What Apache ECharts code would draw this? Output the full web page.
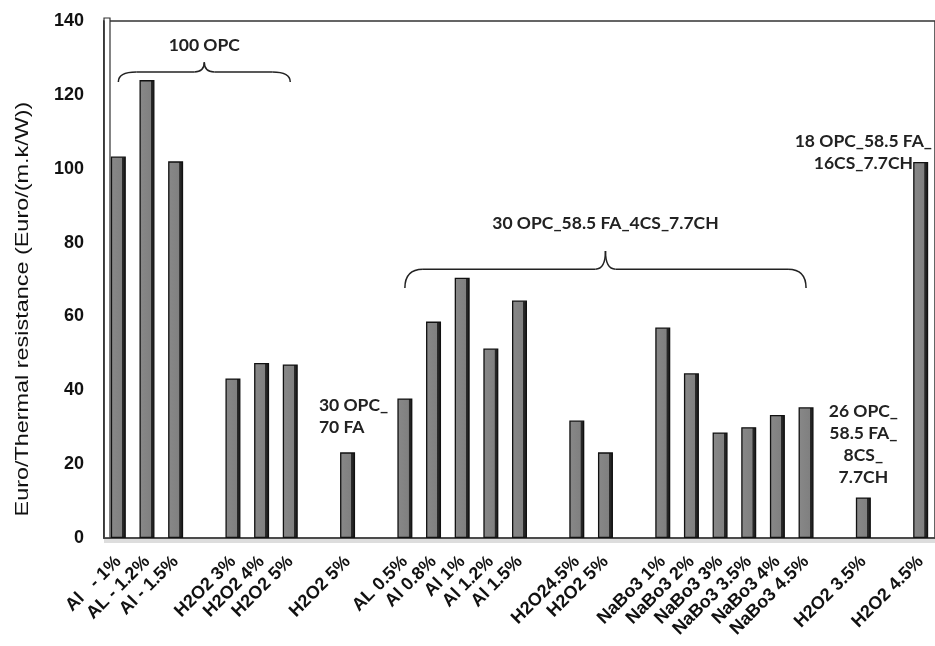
<!DOCTYPE html>
<html>
<head>
<meta charset="utf-8">
<script src="https://cdn.jsdelivr.net/npm/echarts@6/dist/echarts.min.js"></script>
<style>html,body{margin:0;padding:0;background:#fff;}#c{width:935px;height:646px;}</style>
</head>
<body>
<div id="c"></div>
<script>
var categories = ['Al   - 1%', 'AL - 1.2%', 'Al - 1.5%', '', 'H2O2 3%', 'H2O2 4%', 'H2O2 5%', ' ', 'H2O2 5%', '  ',
  'AL 0.5%', 'Al 0.8%', 'Al 1%', 'Al 1.2%', 'Al 1.5%', '   ', 'H2O24.5%', 'H2O2 5%', '    ',
  'NaBo3 1%', 'NaBo3 2%', 'NaBo3 3%', 'NaBo3 3.5%', 'NaBo3 4%', 'NaBo3 4.5%', '     ', 'H2O2 3.5%', '      ', 'H2O2 4.5%'];
var values = [103.3, 124, 102, null, 43.2, 47.4, 47, null, 23.2, null,
  37.8, 58.6, 70.5, 51.3, 64.3, null, 31.8, 23.2, null,
  57, 44.6, 28.6, 30, 33.3, 35.4, null, 11, null, 101.8];
var yTicks = [0, 20, 40, 60, 80, 100, 120, 140];
var yTitle = 'Euro/Thermal resistance (Euro/(m.k/W))';

var chart = echarts.init(document.getElementById('c'));
var barColor = new echarts.graphic.LinearGradient(0, 0, 1, 0, [
  {offset: 0, color: '#888'}, {offset: 0.74, color: '#808080'},
  {offset: 0.76, color: '#2a2a2a'}, {offset: 1, color: '#1a1a1a'}]);

chart.setOption({
  animation: false,
  grid: {left: 104, top: 21, width: 841, bottom: 108, show: true, borderColor: '#333', borderWidth: 1.5, backgroundColor: 'transparent'},
  xAxis: {
    type: 'category', data: categories,
    axisLine: {show: true, lineStyle: {color: '#444', width: 1.5}},
    axisTick: {show: false},
    axisLabel: {interval: 0, rotate: 45, margin: 21, fontFamily: 'Liberation Sans, Arial', fontWeight: 'bold', fontSize: 18, color: '#111'}
  },
  yAxis: {
    type: 'value', min: yTicks[0], max: yTicks[yTicks.length - 1], interval: 20,
    axisLine: {show: true, lineStyle: {color: '#333', width: 1.5}},
    axisTick: {show: false}, splitLine: {show: false},
    axisLabel: {margin: 20, fontFamily: 'Liberation Sans, Arial', fontWeight: 'bold', fontSize: 18, color: '#111'}
  },
  series: [{
    type: 'bar', data: values, barWidth: 15,
    itemStyle: {color: barColor, borderColor: '#111', borderWidth: 1.3}
  }]
});

function px(slot, val) { return chart.convertToPixel({xAxisIndex: 0, yAxisIndex: 0}, [slot, val]); }
var lineStyle = {fill: null, stroke: '#222', lineWidth: 1.5};
function brace(s1, s2, vEnd, vMid, vPeak) {
  var a = px(s1, vEnd), b = px(s2, vEnd), m = px((s1 + s2) / 2, vMid), p = px((s1 + s2) / 2, vPeak);
  var yM = m[1], r = 18, rc = 10, xm = m[0];
  return [
    {type: 'bezierCurve', shape: {x1: a[0], y1: a[1], cpx1: a[0], cpy1: yM, x2: a[0] + r, y2: yM}, style: lineStyle},
    {type: 'line', shape: {x1: a[0] + r, y1: yM, x2: xm - rc, y2: yM}, style: lineStyle},
    {type: 'bezierCurve', shape: {x1: xm - rc, y1: yM, cpx1: xm, cpy1: yM, x2: xm, y2: p[1]}, style: lineStyle},
    {type: 'bezierCurve', shape: {x1: xm, y1: p[1], cpx1: xm, cpy1: yM, x2: xm + rc, y2: yM}, style: lineStyle},
    {type: 'line', shape: {x1: xm + rc, y1: yM, x2: b[0] - r, y2: yM}, style: lineStyle},
    {type: 'bezierCurve', shape: {x1: b[0] - r, y1: yM, cpx1: b[0], cpy1: yM, x2: b[0], y2: b[1]}, style: lineStyle}
  ];
}
var annFont = 'bold 17.5px Lato, "Open Sans", sans-serif';
function txt(slot, val, s, align) {
  var p = px(slot, val);
  return {type: 'text', x: p[0], y: p[1], style: {text: s, font: annFont, fill: '#222', align: align || 'center', verticalAlign: 'middle', lineHeight: 22}};
}
var g0 = px(0, 0), gTop = px(0, 140), gMid = px(0, 62);
var left = 104;
var els = [
  {type: 'rect', shape: {x: left, y: gTop[1] - 3, width: 6, height: g0[1] - gTop[1] + 3}, style: {fill: '#fff', stroke: '#333', lineWidth: 1.2}},
  {type: 'rect', shape: {x: left, y: g0[1] + 1, width: 841, height: 4}, style: {fill: '#ddd', stroke: null}},
  {type: 'text', x: 23, y: gMid[1], rotation: Math.PI / 2, scaleX: 1.3,
    style: {text: yTitle, font: '18px "Liberation Sans", Arial', fill: '#111', align: 'center', verticalAlign: 'middle'}},
  txt(2.8, 133.3, '100 OPC'),
  txt(17.24, 85.2, '30 OPC_58.5 FA_4CS_7.7CH'),
  txt(6.97, 32.9, '30 OPC_\n70 FA', 'left'),
  txt(25.8, 25.4, '26 OPC_\n58.5 FA_\n8CS_\n7.7CH'),
  txt(25.5, 104.4, '18 OPC_58.5 FA_\n16CS_7.7CH')
].concat(brace(-0.17, 5.72, 123.5, 126.2, 128.8)).concat(brace(9.59, 23.66, 67.7, 72.8, 77.7));
chart.setOption({graphic: els});
</script>
</body>
</html>
